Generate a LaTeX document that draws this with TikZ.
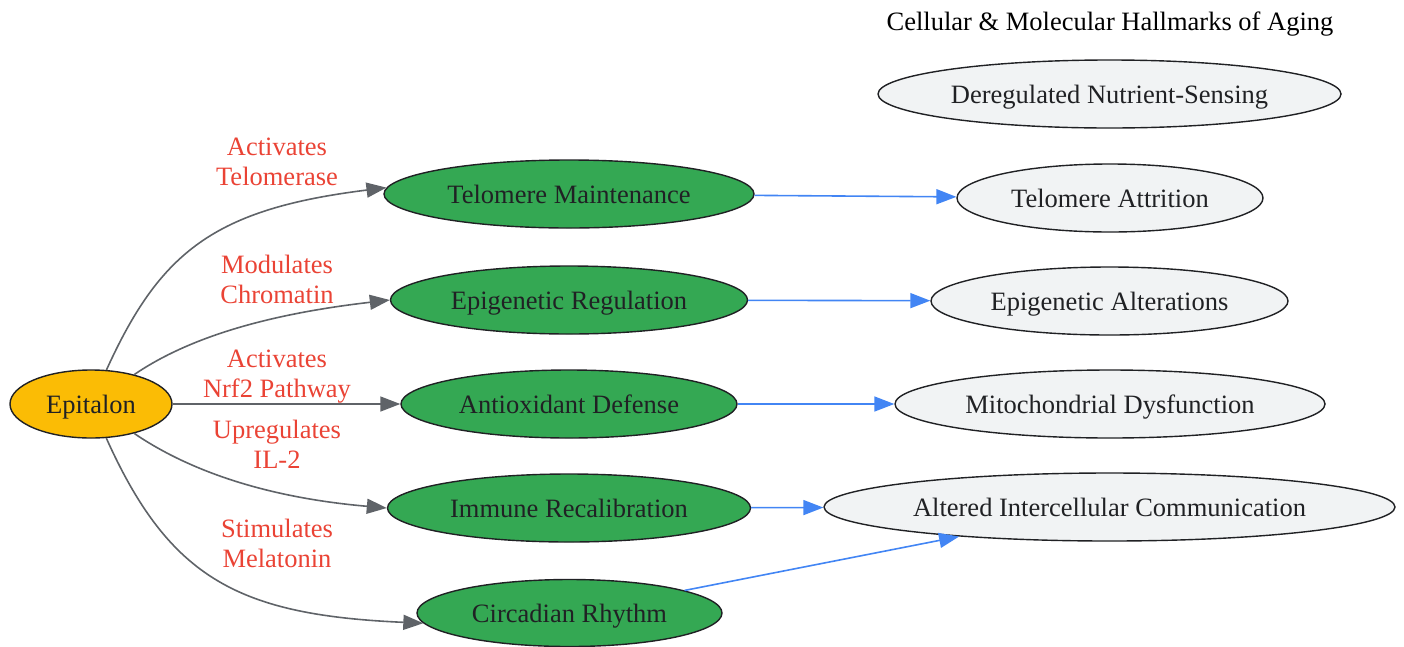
\documentclass[tikz,border=0pt]{standalone}
\usepackage{fontspec}
\setmainfont{Liberation Serif}
\usetikzlibrary{shapes.geometric,arrows.meta}
\definecolor{ink}{HTML}{202124}
\definecolor{gfill}{HTML}{34A853}
\definecolor{yfill}{HTML}{FBBC05}
\definecolor{lfill}{HTML}{F1F3F4}
\definecolor{egray}{HTML}{5F6368}
\definecolor{eblue}{HTML}{4285F4}
\definecolor{lred}{HTML}{EA4335}
\tikzset{
  base/.style={ellipse, draw=ink, line width=1.4pt, inner sep=0pt, text=ink, text height=19pt, text depth=0pt, font=\fontsize{26.5}{30}\selectfont},
  src/.style={base, fill=yfill},
  mech/.style={base, fill=gfill},
  hall/.style={base, fill=lfill},
  lbl/.style={text=lred, align=center, inner sep=0pt, font=\fontsize{26.5}{30}\selectfont},
  garrow/.style={draw=egray, line width=1.6pt, -{Triangle[length=20pt,width=15pt]}, color=egray},
  barrow/.style={draw=eblue, line width=1.6pt, -{Triangle[length=20pt,width=15pt]}, color=eblue}
}
\begin{document}
\begin{tikzpicture}[x=1pt,y=-1pt]
\useasboundingbox (0,0) rectangle (1404,646);
\node[font=\fontsize{26.5}{30}\selectfont, text=black, inner sep=0pt, text height=19pt, text depth=0pt] (title) at (1110,21) {Cellular \& Molecular Hallmarks of Aging};

\node[src, minimum width=162pt, minimum height=68pt] (epi) at (91,404) {Epitalon};

\node[mech, minimum width=370pt, minimum height=68pt] (tm) at (569,194) {Telomere Maintenance};
\node[mech, minimum width=357pt, minimum height=68pt] (er) at (569,300) {Epigenetic Regulation};
\node[mech, minimum width=336pt, minimum height=68pt] (ad) at (569,404) {Antioxidant Defense};
\node[mech, minimum width=363pt, minimum height=68pt] (ir) at (569,508) {Immune Recalibration};
\node[mech, minimum width=305pt, minimum height=67pt] (cr) at (569.5,613) {Circadian Rhythm};

\node[hall, minimum width=463pt, minimum height=68pt] (dns) at (1109.5,94) {Deregulated Nutrient-Sensing};
\node[hall, minimum width=306pt, minimum height=68pt] (ta) at (1110,198) {Telomere Attrition};
\node[hall, minimum width=357pt, minimum height=68pt] (ea) at (1109.5,301) {Epigenetic Alterations};
\node[hall, minimum width=430pt, minimum height=68pt] (md) at (1110,404) {Mitochondrial Dysfunction};
\node[hall, minimum width=571pt, minimum height=68pt] (aic) at (1109.5,507) {Altered Intercellular Communication};

\draw[garrow] (epi) .. controls (160,252) and (214,209) .. (tm.178);
\draw[garrow] (epi) .. controls (185,340) and (260,315) .. (er.west);
\draw[garrow] (epi) -- (ad);
\draw[garrow] (epi) .. controls (185,468) and (260,497) .. (ir.west);
\draw[garrow] (epi) .. controls (170,580) and (240,615) .. (cr.184);

\node[lbl] (l1) at (277,162) {Activates\\Telomerase};
\node[lbl] (l2) at (277,279) {Modulates\\Chromatin};
\node[lbl] (l3) at (277,377) {Activates\\Nrf2 Pathway};
\node[lbl] (l4) at (277,444) {Upregulates\\IL-2};
\node[lbl] (l5) at (277,543) {Stimulates\\Melatonin};

\draw[barrow] (tm) -- (ta);
\draw[barrow] (er) -- (ea);
\draw[barrow] (ad) -- (md);
\draw[barrow] (ir) -- (aic);
\draw[barrow] (cr) -- (aic);
\end{tikzpicture}
\end{document}
